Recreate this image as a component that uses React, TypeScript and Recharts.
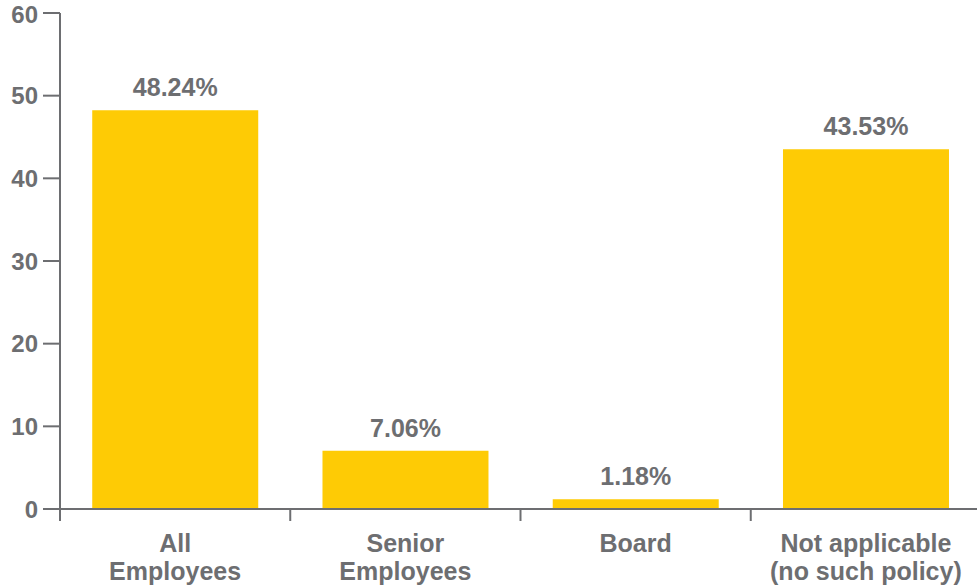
import { BarChart, Bar, XAxis, YAxis, LabelList } from 'recharts';

const categories = ['All|Employees', 'Senior|Employees', 'Board', 'Not applicable|(no such policy)'];
const shares = [48.24, 7.06, 1.18, 43.53];
const yTicks = [0, 10, 20, 30, 40, 50, 60];

const data = categories.map((name, i) => ({ name, value: shares[i] }));

const GREY = '#6d6e71';
const GOLD = '#fecb05';
const FONT = 'Liberation Sans, Arial, sans-serif';

const W = 990;
const M = { top: 13, right: 9, bottom: 8, left: 0 };
const Y_W = 60;
const BAND = (W - M.left - M.right - Y_W) / categories.length;

// ticks sit on category boundaries, labels stay centred
function CategoryTick(props: any) {
  const { x, y, payload, index } = props;
  const lines = String(payload.value).split('|');
  const left = x - BAND / 2;
  const right = x + BAND / 2;
  return (
    <g>
      <line x1={left} x2={left} y1={y - 12} y2={y} stroke={GREY} strokeWidth={2} />
      {index === categories.length - 1 && (
        <line x1={right} x2={right} y1={y - 12} y2={y} stroke={GREY} strokeWidth={2} />
      )}
      <text x={x} y={y} textAnchor="middle" fill={GREY} fontFamily={FONT} fontWeight="bold" fontSize={25}>
        {lines.map((ln, i) => (
          <tspan key={i} x={x} dy={i === 0 ? 31 : 28}>{ln}</tspan>
        ))}
      </text>
    </g>
  );
}

export default function App() {
  return (
    <div style={{ position: 'absolute', left: 0, top: 0, width: W, height: 587, background: '#fff' }}>
      <BarChart width={W} height={587} data={data} margin={M} barCategoryGap="14%">
        <XAxis
          dataKey="name"
          tick={<CategoryTick />}
          tickLine={false}
          axisLine={{ stroke: GREY, strokeWidth: 2 }}
          tickSize={12}
          tickMargin={0}
          interval={0}
          height={70}
        />
        <YAxis
          domain={[0, 60]}
          ticks={yTicks}
          width={Y_W}
          tickSize={17}
          tickMargin={5}
          tickLine={{ stroke: GREY, strokeWidth: 2 }}
          axisLine={{ stroke: GREY, strokeWidth: 2 }}
          tick={{ fill: GREY, fontFamily: FONT, fontWeight: 'bold', fontSize: 24 }}
        />
        <Bar dataKey="value" fill={GOLD} isAnimationActive={false}>
          <LabelList
            dataKey="value"
            position="top"
            offset={14}
            formatter={(v: any) => `${Number(v).toFixed(2)}%`}
            style={{ fill: GREY, fontFamily: FONT, fontWeight: 'bold', fontSize: 25 }}
          />
        </Bar>
      </BarChart>
    </div>
  );
}
